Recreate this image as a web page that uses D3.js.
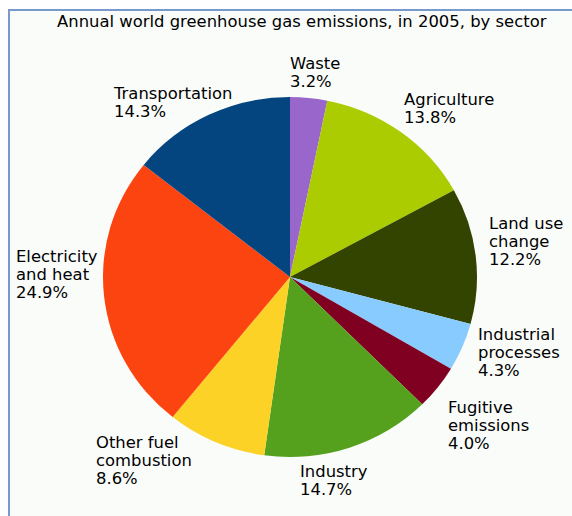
<!DOCTYPE html>
<html>
<head>
<meta charset="utf-8">
<script src="https://cdn.jsdelivr.net/npm/d3@7"></script>
<style>
  body { margin: 0; background: #ffffff; }
  svg { display: block; }
</style>
</head>
<body>
<div id="chart"></div>
<script>
const sectors = ["Waste", "Agriculture", "Land use change", "Industrial processes", "Fugitive emissions",
  "Industry", "Other fuel combustion", "Electricity and heat", "Transportation"]
const shares = [3.2, 13.8, 12.2, 4.3, 4.0, 14.7, 8.6, 24.9, 14.3]
const colors = ["#9966cc", "#aacc00", "#334400", "#88ccff", "#800022",
  "#55a01d", "#fcd226", "#fc4410", "#04457f"]
// label lines as they wrap in the picture
const labelLines = [["Waste"], ["Agriculture"], ["Land use", "change"], ["Industrial", "processes"],
  ["Fugitive", "emissions"], ["Industry"], ["Other fuel", "combustion"], ["Electricity", "and heat"], ["Transportation"]]
// label anchor (left, first baseline) for each sector
const labelPos = [[290, 69], [404, 105], [489, 229], [478, 340], [448, 413],
  [300, 477], [96, 448], [16, 262], [114, 99]]

const width = 572, height = 516
// the picture is stretched a bit sideways, so the pie is an ellipse
const cx = 290, cy = 277, rx = 187, ry = 180
const stretch = rx / ry
const fontSize = 15.8
const lineH = 18

const svg = d3.select("#chart").append("svg")
  .attr("width", width)
  .attr("height", height)

svg.append("rect")
  .attr("x", 9).attr("y", 10)
  .attr("width", width + 10).attr("height", height + 10)
  .attr("fill", "#fafcfa")
  .attr("stroke", "#7799cc")
  .attr("stroke-width", 2)

svg.append("text")
  .attr("transform", `translate(57,27) scale(${stretch},1)`)
  .attr("font-family", "DejaVu Sans")
  .attr("font-size", fontSize)
  .attr("fill", "#000")
  .text("Annual world greenhouse gas emissions, in 2005, by sector")

const pie = d3.pie().sort(null).value(d => d)
const arc = d3.arc().innerRadius(0).outerRadius(ry)

svg.append("g")
  .attr("transform", `translate(${cx},${cy}) scale(${stretch},1)`)
  .selectAll("path")
  .data(pie(shares))
  .join("path")
    .attr("d", arc)
    .attr("fill", (d, i) => colors[i])

const labels = svg.append("g")
  .attr("font-family", "DejaVu Sans")
  .attr("font-size", fontSize)
  .attr("fill", "#000")
  .selectAll("text")
  .data(sectors)
  .join("text")
    .attr("transform", (d, i) => `translate(${labelPos[i][0]},${labelPos[i][1]}) scale(${stretch},1)`)

labels.selectAll("tspan")
  .data((d, i) => labelLines[i].concat([d3.format(".1f")(shares[i]) + "%"]))
  .join("tspan")
    .attr("x", 0)
    .attr("y", (d, i) => i * lineH)
    .text(d => d)
</script>
</body>
</html>
